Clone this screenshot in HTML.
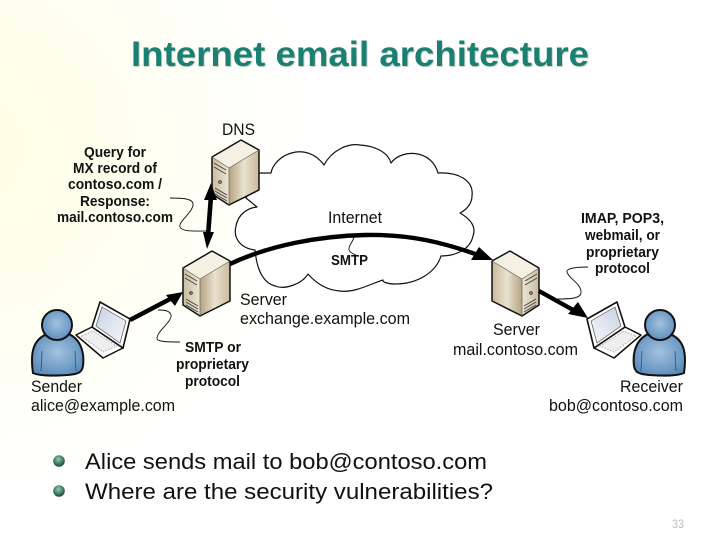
<!DOCTYPE html>
<html><head><meta charset="utf-8"><style>
html,body{margin:0;padding:0;width:720px;height:540px;overflow:hidden;background:#fff}
svg{display:block}
text{font-family:"Liberation Sans",sans-serif;fill:#111}
.b{font-weight:bold;font-size:14.5px}
.n{font-size:17px}
.c{font-size:22.5px;fill:#111}
</style></head><body>
<svg width="720" height="540" viewBox="0 0 720 540" xmlns="http://www.w3.org/2000/svg">
<defs>
<radialGradient id="bg" gradientUnits="userSpaceOnUse" cx="-30" cy="150" r="430">
<stop offset="0" stop-color="#fffee0"/><stop offset=".4" stop-color="#fffff2"/><stop offset=".8" stop-color="#ffffff"/>
</radialGradient>
<linearGradient id="fL" x1="0" y1="0" x2="1" y2="0"><stop offset="0" stop-color="#c9bc9d"/><stop offset="1" stop-color="#ece6d5"/></linearGradient>
<linearGradient id="fR" x1="0" y1="0" x2="1" y2="0"><stop offset="0" stop-color="#b3a382"/><stop offset=".5" stop-color="#e9e2ce"/><stop offset="1" stop-color="#c8b99a"/></linearGradient>
<radialGradient id="bl" cx=".5" cy=".45" r=".6"><stop offset="0" stop-color="#a3c1df"/><stop offset="1" stop-color="#5a8cbb"/></radialGradient>
<radialGradient id="bu" cx=".45" cy=".35" r=".65"><stop offset="0" stop-color="#9cc9ad"/><stop offset=".6" stop-color="#3f7f66"/><stop offset="1" stop-color="#1c4a3c"/></radialGradient>
<linearGradient id="scr" x1="0" y1="0" x2="1" y2="1"><stop offset="0" stop-color="#c9d2e2"/><stop offset="1" stop-color="#f6f7fc"/></linearGradient>
<g id="srv">
<path d="M212 157 L241 140 L259 150 L229 168 Z" fill="#f4f0e4"/>
<path d="M212 157 L229 168 L229 205 L212 194 Z" fill="url(#fL)"/>
<path d="M229 168 L259 150 L259 190 L229 205 Z" fill="url(#fR)"/>
<path d="M212 157 L241 140 L259 150 L259 190 L229 205 L212 194 Z" fill="none" stroke="#111" stroke-width="1.5" stroke-linejoin="round"/>
<path d="M212 157 L229 168 L259 150 M229 168 L229 205" fill="none" stroke="#6b6250" stroke-width=".7"/>
<path d="M214 163 l12 7 M214 167 l12 7 M215 188 l12 7 M215 191 l12 7 M215 194 l12 7" stroke="#444" stroke-width="1" fill="none"/>
<circle cx="220" cy="182" r="1.3" fill="none" stroke="#333"/>
</g>
<g id="usr">
<path d="M76 335 L103 358 L123 348 L92 327 Z" fill="#fff" stroke="#111" stroke-width="1.5" stroke-linejoin="round"/>
<path d="M81 336 L103 352 L117 346 L93 331 Z" fill="#eee" stroke="#aaa" stroke-width="1" stroke-dasharray="1.5 1.5"/>
<path d="M100 302 L130 319 L123 348 L92 327 Z" fill="#fff" stroke="#111" stroke-width="1.6" stroke-linejoin="round"/>
<path d="M102 307 L126 321 L120 343 L96 326 Z" fill="url(#scr)" stroke="#555" stroke-width=".7"/>
<path d="M33 373 C30 352 33 338 50 333 L66 333 C79 337 85 350 83 366 C82 372 79 374 68 375 C52 376 40 376 33 373 Z" fill="url(#bl)" stroke="#111" stroke-width="2"/>
<path d="M42 351 L41 371 M75 351 L76 371" stroke="#2f4f70" stroke-width=".8" fill="none"/>
<circle cx="57" cy="325" r="15" fill="url(#bl)" stroke="#111" stroke-width="2"/>
</g>
</defs>
<rect width="720" height="540" fill="#fff"/>
<rect width="720" height="540" fill="url(#bg)"/>

<text x="132" y="67" font-size="35" font-weight="bold" textLength="458" lengthAdjust="spacingAndGlyphs" style="fill:#d2d5ce">Internet email architecture</text>
<text x="131" y="66" font-size="35" font-weight="bold" textLength="458" lengthAdjust="spacingAndGlyphs" style="fill:#1b7f72">Internet email architecture</text>

<!-- cloud -->
<path d="M259 173 L271 173 C274 155 306 140 324 165 C332 150 348 143 360 145 C375 146 388 152 391 163 C402 148 432 150 438 173 C458 172 474 180 472 196 C472 204 466 210 460 213 C472 220 476 228 473 236 C470 250 455 256 441 256 C436 272 418 284 395 284 C388 284 382 282 383 280 C370 284 355 293 340 291 C325 290 315 282 308 274 C302 284 285 290 275 286 C264 283 257 272 255 250 C240 248 233 238 236 226 C238 214 248 208 257 207 L246 198 Z" fill="#fff" stroke="#111" stroke-width="1.2" stroke-linejoin="round"/>

<use href="#srv"/>
<use href="#srv" transform="translate(-29 111)"/>
<use href="#srv" transform="translate(751 111) scale(-1 1)"/>
<use href="#usr"/>
<use href="#usr" transform="translate(717 0) scale(-1 1)"/>

<!-- thick arrows -->
<path d="M230 264 C270 245 320 236 365 235 C410 234 445 243 478 255" fill="none" stroke="#000" stroke-width="4.4"/>
<path d="M493 260 L479 247 L471 260 Z" fill="#000"/>
<path d="M211 196 L208 236" stroke="#000" stroke-width="4.6"/>
<path d="M211 183 L204 200 L217 200 Z M207 249 L203 232 L214 232 Z" fill="#000"/>
<path d="M130 320 L172 298" stroke="#000" stroke-width="4.4"/>
<path d="M183 292 L166 295 L175 306 Z" fill="#000"/>
<path d="M539 291 L575 311" stroke="#000" stroke-width="4.4"/>
<path d="M588 318 L568 314 L578 302 Z" fill="#000"/>

<!-- callout curves -->
<g fill="none" stroke="#111" stroke-width=".9">
<path d="M170 198 C180 198 194 198 193 205 C192 213 178 222 180 227 C182 232 195 231 206 231"/>
<path d="M354 237 C353 242 348 246 349 250 C350 253 354 254 356 255"/>
<path d="M588 267 C578 267 566 268 567 272 C568 278 582 284 581 293 C580 299 568 299 556 299"/>
<path d="M180 342 C170 342 156 342 157 338 C158 330 172 322 171 315 C170 310 162 310 158 310"/>
</g>

<!-- labels -->
<text class="n" x="222" y="135" textLength="33" lengthAdjust="spacingAndGlyphs">DNS</text>
<text class="n" x="328" y="223" textLength="54" lengthAdjust="spacingAndGlyphs">Internet</text>
<text class="n" x="240" y="305" textLength="47" lengthAdjust="spacingAndGlyphs">Server</text>
<text class="n" x="240" y="324" textLength="170" lengthAdjust="spacingAndGlyphs">exchange.example.com</text>
<text class="n" x="31" y="392" textLength="51" lengthAdjust="spacingAndGlyphs">Sender</text>
<text class="n" x="31" y="411" textLength="144" lengthAdjust="spacingAndGlyphs">alice@example.com</text>
<text class="n" x="493" y="335" textLength="47" lengthAdjust="spacingAndGlyphs">Server</text>
<text class="n" x="453" y="355" textLength="125" lengthAdjust="spacingAndGlyphs">mail.contoso.com</text>
<text class="n" x="620" y="392" textLength="63" lengthAdjust="spacingAndGlyphs">Receiver</text>
<text class="n" x="549" y="411" textLength="134" lengthAdjust="spacingAndGlyphs">bob@contoso.com</text>

<text class="b" x="84" y="157" textLength="62" lengthAdjust="spacingAndGlyphs">Query for</text>
<text class="b" x="73" y="173" textLength="84" lengthAdjust="spacingAndGlyphs">MX record of</text>
<text class="b" x="68" y="189" textLength="94" lengthAdjust="spacingAndGlyphs">contoso.com /</text>
<text class="b" x="80" y="206" textLength="70" lengthAdjust="spacingAndGlyphs">Response:</text>
<text class="b" x="57" y="222" textLength="116" lengthAdjust="spacingAndGlyphs">mail.contoso.com</text>
<text class="b" x="331" y="265" textLength="37" lengthAdjust="spacingAndGlyphs">SMTP</text>
<text class="b" x="185" y="352" textLength="56" lengthAdjust="spacingAndGlyphs">SMTP or</text>
<text class="b" x="176" y="369" textLength="73" lengthAdjust="spacingAndGlyphs">proprietary</text>
<text class="b" x="185" y="386" textLength="55" lengthAdjust="spacingAndGlyphs">protocol</text>
<text class="b" x="581" y="223" textLength="83" lengthAdjust="spacingAndGlyphs">IMAP, POP3,</text>
<text class="b" x="585" y="240" textLength="75" lengthAdjust="spacingAndGlyphs">webmail, or</text>
<text class="b" x="586" y="257" textLength="73" lengthAdjust="spacingAndGlyphs">proprietary</text>
<text class="b" x="595" y="273" textLength="55" lengthAdjust="spacingAndGlyphs">protocol</text>

<!-- bullets -->
<circle cx="59" cy="461" r="5.8" fill="url(#bu)"/>
<circle cx="59" cy="491" r="5.8" fill="url(#bu)"/>
<text class="c" x="85" y="469" textLength="402" lengthAdjust="spacingAndGlyphs">Alice sends mail to bob@contoso.com</text>
<text class="c" x="85" y="499" textLength="408" lengthAdjust="spacingAndGlyphs">Where are the security vulnerabilities?</text>
<text x="672" y="528" font-size="12" textLength="12" lengthAdjust="spacingAndGlyphs" style="fill:#bdbdbd">33</text>
</svg>
</body></html>
